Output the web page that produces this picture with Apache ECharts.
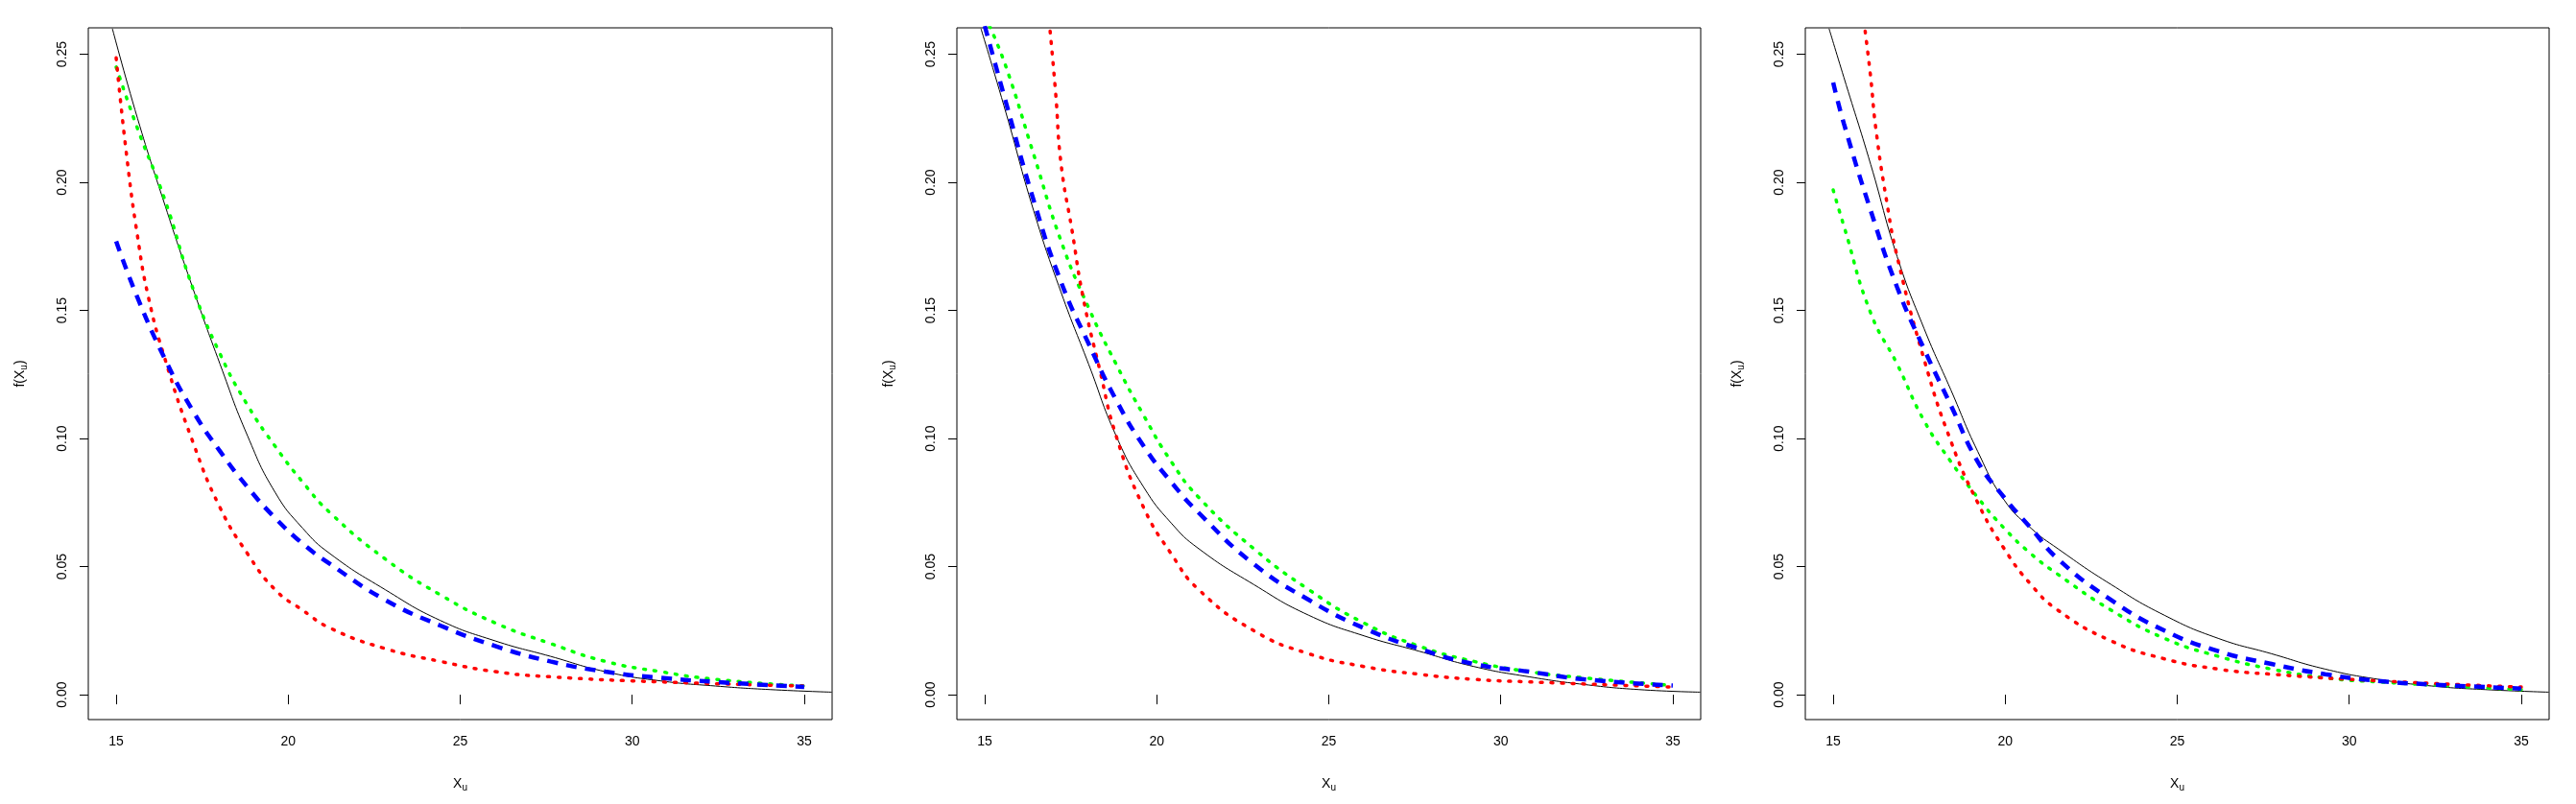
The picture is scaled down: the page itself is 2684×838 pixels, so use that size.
<!DOCTYPE html>
<html>
<head>
<meta charset="utf-8">
<script src="https://cdn.jsdelivr.net/npm/echarts@6/dist/echarts.min.js"></script>
<style>html,body{margin:0;padding:0;background:#fff}#chart{width:2684px;height:838px}</style>
</head>
<body>
<div id="chart"></div>
<script>
// values, one set per panel
const xTicks = [15, 20, 25, 30, 35];
const yTicks = [0, 0.05, 0.10, 0.15, 0.20, 0.25];

const p1BlackX = [14.89, 15.62, 16.42, 17.22, 18.02, 18.82, 19.62, 20.42, 21.22, 22.82, 24.42, 26.02, 27.62, 29.22, 30.82, 32.42, 34.02, 35.8];
const p1BlackY = [0.26, 0.225, 0.191, 0.159, 0.129, 0.101, 0.079, 0.065, 0.055, 0.041, 0.029, 0.021, 0.015, 0.009, 0.0054, 0.0034, 0.002, 0.001];
const p1GreenX = [15, 15.62, 16.42, 17.22, 18.02, 18.82, 19.62, 20.42, 21.22, 22.82, 24.42, 26.02, 27.62, 29.22, 30.82, 32.42, 35];
const p1GreenY = [0.245, 0.221, 0.193, 0.159, 0.133, 0.113, 0.097, 0.083, 0.071, 0.053, 0.039, 0.028, 0.020, 0.013, 0.009, 0.006, 0.0034];
const p1RedX = [15, 15.3, 15.62, 15.94, 16.42, 17.22, 18.02, 18.82, 19.62, 20.42, 21.22, 22.82, 24.42, 26.02, 27.62, 30.82, 35];
const p1RedY = [0.2486, 0.211, 0.179, 0.155, 0.131, 0.099, 0.073, 0.055, 0.041, 0.033, 0.026, 0.018, 0.013, 0.009, 0.007, 0.005, 0.0034];
const p1BlueX = [15, 15.62, 16.42, 17.22, 18.02, 18.82, 19.62, 20.42, 21.22, 22.82, 24.42, 26.02, 27.62, 29.22, 30.82, 32.42, 35];
const p1BlueY = [0.177, 0.155, 0.131, 0.111, 0.095, 0.081, 0.069, 0.059, 0.051, 0.037, 0.027, 0.019, 0.013, 0.009, 0.0066, 0.005, 0.003];

const p2BlackX = [14.89, 15.62, 16.42, 17.22, 18.02, 18.82, 19.62, 20.42, 21.22, 22.82, 24.42, 26.02, 27.62, 29.22, 30.82, 32.42, 34.02, 35.8];
const p2BlackY = [0.26, 0.227, 0.189, 0.157, 0.129, 0.101, 0.081, 0.067, 0.057, 0.043, 0.031, 0.023, 0.017, 0.011, 0.007, 0.004, 0.002, 0.001];
const p2BlueX = [15, 15.62, 16.42, 17.22, 18.02, 18.82, 19.62, 20.42, 21.22, 22.82, 24.42, 26.02, 27.62, 29.22, 30.82, 32.42, 35];
const p2BlueY = [0.261, 0.231, 0.193, 0.161, 0.137, 0.115, 0.097, 0.083, 0.071, 0.051, 0.037, 0.026, 0.018, 0.012, 0.009, 0.006, 0.0036];
const p2GreenX = [15.14, 15.62, 16.42, 17.22, 18.02, 18.82, 19.62, 20.42, 21.22, 22.82, 24.42, 26.02, 27.62, 29.22, 30.82, 32.42, 35];
const p2GreenY = [0.261, 0.245, 0.211, 0.177, 0.151, 0.129, 0.109, 0.091, 0.077, 0.057, 0.041, 0.028, 0.019, 0.013, 0.009, 0.0066, 0.0036];
const p2RedX = [16.9, 17.06, 17.22, 17.54, 17.86, 18.34, 18.82, 19.62, 20.42, 21.22, 22.82, 24.42, 26.02, 27.62, 29.22, 30.82, 35];
const p2RedY = [0.259, 0.235, 0.207, 0.181, 0.155, 0.127, 0.101, 0.073, 0.055, 0.041, 0.025, 0.016, 0.011, 0.008, 0.006, 0.005, 0.003];

const p3BlackX = [14.88, 15.31, 16.09, 16.86, 17.64, 18.42, 19.2, 19.97, 20.75, 21.53, 23.08, 24.63, 26.19, 27.74, 29.3, 30.85, 32.4, 33.96, 35.8];
const p3BlackY = [0.26, 0.241, 0.207, 0.171, 0.143, 0.119, 0.095, 0.076, 0.065, 0.057, 0.043, 0.031, 0.022, 0.016, 0.010, 0.006, 0.0034, 0.002, 0.001];
const p3BlueX = [15, 15.31, 16.09, 16.86, 17.64, 18.42, 19.2, 19.97, 20.75, 21.53, 23.08, 24.63, 26.19, 27.74, 29.3, 30.85, 32.4, 35];
const p3BlueY = [0.239, 0.223, 0.189, 0.159, 0.135, 0.113, 0.091, 0.077, 0.065, 0.053, 0.037, 0.025, 0.017, 0.012, 0.008, 0.0054, 0.004, 0.0024];
const p3GreenX = [15, 15.31, 16.09, 16.86, 17.64, 18.42, 19.2, 19.97, 20.75, 21.53, 23.08, 24.63, 26.19, 27.74, 29.3, 30.85, 35];
const p3GreenY = [0.197, 0.183, 0.149, 0.129, 0.107, 0.091, 0.077, 0.065, 0.055, 0.047, 0.033, 0.022, 0.015, 0.010, 0.0066, 0.005, 0.002];
const p3RedX = [15.93, 16.09, 16.24, 16.55, 16.86, 17.64, 18.42, 19.2, 19.97, 20.75, 21.53, 23.08, 24.63, 26.19, 27.74, 30.85, 35];
const p3RedY = [0.259, 0.241, 0.221, 0.193, 0.171, 0.131, 0.099, 0.075, 0.057, 0.043, 0.033, 0.021, 0.014, 0.010, 0.008, 0.0054, 0.003];

const zip = (xs, ys) => xs.map((x, i) => [x, ys[i]]);

const panels = [
  {left: 92, black: zip(p1BlackX, p1BlackY), blue: zip(p1BlueX, p1BlueY), green: zip(p1GreenX, p1GreenY), red: zip(p1RedX, p1RedY)},
  {left: 997, black: zip(p2BlackX, p2BlackY), blue: zip(p2BlueX, p2BlueY), green: zip(p2GreenX, p2GreenY), red: zip(p2RedX, p2RedY)},
  {left: 1881, black: zip(p3BlackX, p3BlackY), blue: zip(p3BlueX, p3BlueY), green: zip(p3GreenX, p3GreenY), red: zip(p3RedX, p3RedY)}
];

const font = 'Liberation Sans';
const rich = {s: {fontSize: 10, fontFamily: font, color: '#000', verticalAlign: 'bottom', padding: [8, 0, 0, 0]}};

const grids = [], xAxes = [], yAxes = [], series = [];
panels.forEach((p, i) => {
  grids.push({left: p.left, top: 29, width: 775, height: 721, show: true, borderColor: '#000', borderWidth: 1, backgroundColor: 'transparent'});
  xAxes.push({
    type: 'value', gridIndex: i, min: 14.19, max: 35.81,
    name: 'X{s|u}', nameLocation: 'middle', nameGap: 58,
    nameTextStyle: {fontFamily: font, fontSize: 14, color: '#000', rich: rich},
    axisLine: {show: false},
    axisTick: {show: true, inside: false, length: 10, customValues: xTicks, lineStyle: {color: '#000'}},
    axisLabel: {customValues: xTicks, margin: 16, fontFamily: font, fontSize: 14, color: '#000'},
    splitLine: {show: false}
  });
  yAxes.push({
    type: 'value', gridIndex: i, min: -0.0097, max: 0.2603,
    name: 'f(X{s|u})', nameLocation: 'middle', nameGap: 62, nameRotate: 90,
    nameTextStyle: {fontFamily: font, fontSize: 14, color: '#000', rich: rich},
    axisLine: {show: false},
    axisTick: {show: true, inside: false, length: 9, customValues: yTicks, lineStyle: {color: '#000'}},
    axisLabel: {customValues: yTicks, rotate: 90, margin: 20, fontFamily: font, fontSize: 14, color: '#000',
      formatter: v => v.toFixed(2)},
    splitLine: {show: false}
  });
  const base = {type: 'line', xAxisIndex: i, yAxisIndex: i, showSymbol: false, symbol: 'none', smooth: true, clip: true, animation: false};
  series.push(Object.assign({}, base, {data: p.black, lineStyle: {color: '#000', width: 1}}));
  series.push(Object.assign({}, base, {data: p.green, lineStyle: {color: '#00ff00', width: 3.5, type: [2, 9], cap: 'round'}}));
  series.push(Object.assign({}, base, {data: p.red, lineStyle: {color: '#ff0000', width: 3.5, type: [2, 9], cap: 'round'}}));
  series.push(Object.assign({}, base, {data: p.blue, lineStyle: {color: '#0000ff', width: 4.5, type: [11, 9]}}));
});

const myChart = echarts.init(document.getElementById('chart'));
myChart.setOption({
  backgroundColor: '#fff',
  animation: false,
  grid: grids,
  xAxis: xAxes,
  yAxis: yAxes,
  series: series
});
</script>
</body>
</html>
